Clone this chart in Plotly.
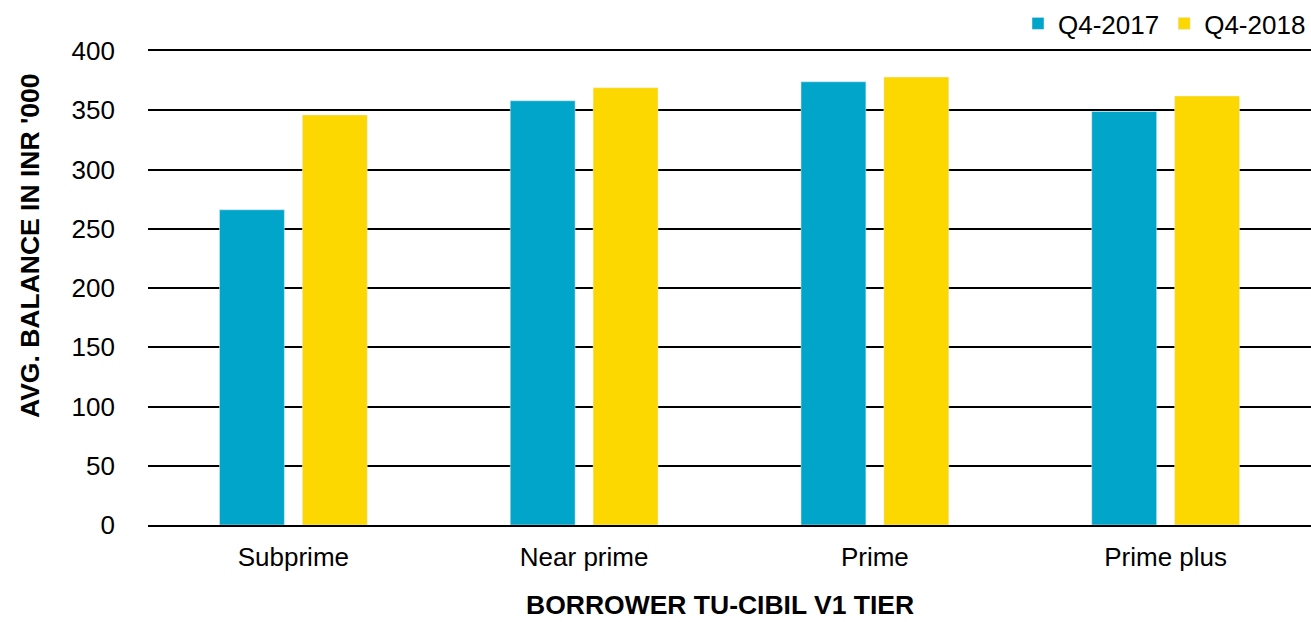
import plotly.graph_objects as go

categories = ["Subprime", "Near prime", "Prime", "Prime plus"]
q4_2017 = [266, 358, 374, 349]
q4_2018 = [346, 369, 378, 362]
y_ticks = [0, 50, 100, 150, 200, 250, 300, 350, 400]

FONT = "Liberation Sans, Arial, sans-serif"
FS = 26

fig = go.Figure()
fig.add_trace(go.Bar(name="Q4-2017", x=categories, y=q4_2017, marker_color="#00A5C9"))
fig.add_trace(go.Bar(name="Q4-2018", x=categories, y=q4_2018, marker_color="#FCD700"))

fig.update_layout(
    width=1311, height=622,
    barmode="group", bargap=0.43, bargroupgap=0.217,
    plot_bgcolor="white", paper_bgcolor="white",
    margin=dict(l=148, r=0, t=51, b=97),
    font=dict(family=FONT, size=FS, color="black"),
    legend=dict(orientation="h", x=1.0, xanchor="right",
                yref="container", y=1.0, yanchor="top",
                font=dict(size=26), itemwidth=30, traceorder="normal",
                tracegroupgap=0, bgcolor="rgba(0,0,0,0)"),
    xaxis=dict(
        showline=True, mirror=True, linecolor="black", linewidth=1.5,
        ticks="", showgrid=False, automargin=False,
        ticklabelstandoff=8,
        tickfont=dict(size=FS),
    ),
    yaxis=dict(
        range=[0, 400], tickvals=y_ticks,
        showgrid=True, gridcolor="black", gridwidth=1.5,
        zeroline=False, showline=False, ticks="", automargin=False,
        ticklabelstandoff=32,
        tickfont=dict(size=FS),
    ),
    annotations=[
        dict(text="<b>BORROWER TU-CIBIL V1 TIER</b>", xref="paper", yref="paper",
             x=(720 - 148) / 1163, y=0, yshift=-80, xanchor="center", yanchor="middle",
             showarrow=False, borderpad=0, font=dict(size=26.5)),
        dict(text="<b>AVG. BALANCE IN INR '000</b>", xref="paper", yref="paper",
             x=0, xshift=-118.5, y=(525 - 246.5) / 474, xanchor="center", yanchor="middle",
             textangle=-90, showarrow=False, borderpad=0, font=dict(size=26.5)),
    ],
)

fig.write_html("out.html", config={"displayModeBar": False},
               post_script="document.body.style.margin='0';document.body.style.overflow='hidden';")
